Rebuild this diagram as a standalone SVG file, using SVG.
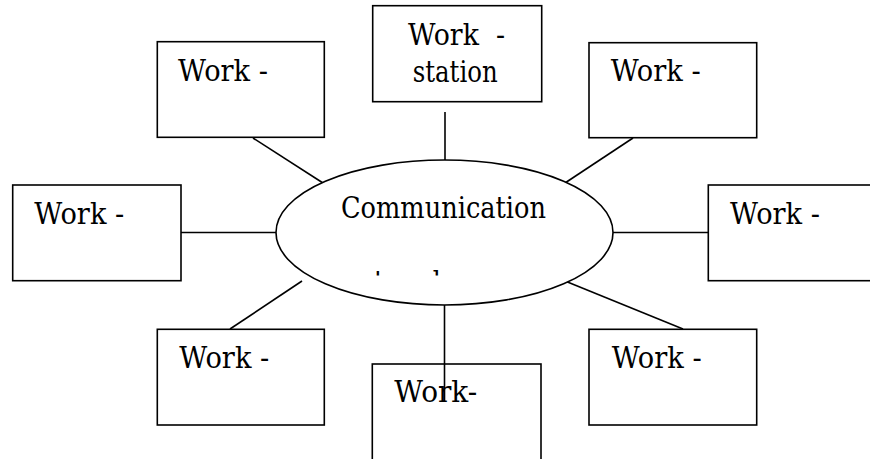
<svg xmlns="http://www.w3.org/2000/svg" width="870" height="459" viewBox="0 0 870 459">
<style>
.box{fill:#fff;stroke:#000;stroke-width:1.6}
.ln{stroke:#000;stroke-width:1.6;fill:none}
.t{font-family:"DejaVu Serif","Liberation Serif",serif;font-size:29px;fill:#000}
</style>
<defs>
<clipPath id="clipNet"><rect x="330" y="260" width="230" height="15.5"/></clipPath>
</defs>
<rect width="870" height="459" fill="#fff"/>
<g id="connectors">
<line class="ln" x1="445" y1="112" x2="445" y2="160"/>
<line class="ln" x1="253" y1="138" x2="323" y2="183"/>
<line class="ln" x1="633" y1="138" x2="565" y2="183"/>
<line class="ln" x1="181" y1="232.5" x2="276" y2="232.5"/>
<line class="ln" x1="613" y1="232.5" x2="708" y2="232.5"/>
<line class="ln" x1="302" y1="281" x2="230" y2="329"/>
<line class="ln" x1="565" y1="281" x2="683" y2="329"/>
</g>
<g id="hub">
<ellipse class="box" cx="444.5" cy="232.5" rx="168.5" ry="72.5"/>
<text class="t" x="341" y="218" textLength="205" lengthAdjust="spacingAndGlyphs">Communication</text>
<text class="t" x="343" y="292" textLength="105" lengthAdjust="spacingAndGlyphs" clip-path="url(#clipNet)">network</text>
</g>
<g id="ws-top">
<rect class="box" x="372.7" y="5.7" width="169" height="96"/>
<text class="t" x="408" y="45" xml:space="preserve" textLength="97" lengthAdjust="spacingAndGlyphs">Work  -</text>
<text class="t" x="412.7" y="81.7" textLength="85" lengthAdjust="spacingAndGlyphs">station</text>
</g>
<g id="ws-topleft">
<rect class="box" x="157.3" y="41.7" width="167" height="95.6"/>
<text class="t" x="178" y="80.7" textLength="90" lengthAdjust="spacingAndGlyphs">Work -</text>
</g>
<g id="ws-topright">
<rect class="box" x="589" y="42.7" width="167.7" height="95"/>
<text class="t" x="610.7" y="80.7" textLength="90" lengthAdjust="spacingAndGlyphs">Work -</text>
</g>
<g id="ws-left">
<rect class="box" x="12.7" y="185" width="168.3" height="95.7"/>
<text class="t" x="34.3" y="224" textLength="90" lengthAdjust="spacingAndGlyphs">Work -</text>
</g>
<g id="ws-right">
<rect class="box" x="708.3" y="185" width="175" height="95.7"/>
<text class="t" x="730" y="224" textLength="90" lengthAdjust="spacingAndGlyphs">Work -</text>
</g>
<g id="ws-bottomleft">
<rect class="box" x="157.3" y="329.3" width="167" height="95.7"/>
<text class="t" x="179.3" y="368.3" textLength="90" lengthAdjust="spacingAndGlyphs">Work -</text>
</g>
<g id="ws-bottomright">
<rect class="box" x="589" y="329.3" width="167.7" height="95.7"/>
<text class="t" x="611.7" y="368.3" textLength="90" lengthAdjust="spacingAndGlyphs">Work -</text>
</g>
<g id="ws-bottom">
<rect class="box" x="372.3" y="364" width="168.7" height="110"/>
<text class="t" x="394.3" y="401.7" textLength="83" lengthAdjust="spacingAndGlyphs">Work-</text>
</g>
<line class="ln" x1="444.5" y1="305" x2="444.5" y2="402"/>
</svg>
